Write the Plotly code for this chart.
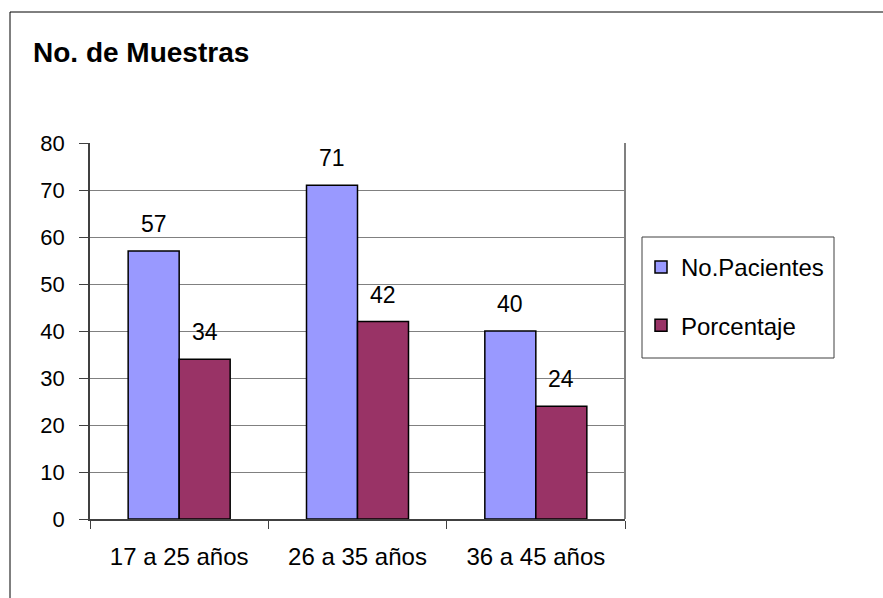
import plotly.graph_objects as go

categories = ["17 a 25 años", "26 a 35 años", "36 a 45 años"]
pacientes = [57, 71, 40]
porcentaje = [34, 42, 24]
series_names = ["No.Pacientes", "Porcentaje"]
colors = ["#9999FF", "#993366"]
y_ticks = [0, 10, 20, 30, 40, 50, 60, 70, 80]
title_text = "No. de Muestras"

FONT = "Liberation Sans, Arial, sans-serif"
W, H = 883, 598
L, R, T, B = 90, 625, 143, 519

fig = go.Figure()
for i, (name, vals) in enumerate(zip(series_names, [pacientes, porcentaje])):
    fig.add_trace(go.Bar(
        x=categories, y=vals, name=name,
        marker=dict(color=colors[i], line=dict(color="#000000", width=1.5)),
        legendgroup=name,
    ))

# data labels above bars
for i, vals in enumerate([pacientes, porcentaje]):
    shift = -25.5 if i == 0 else 25.5
    for c, v in zip(categories, vals):
        fig.add_annotation(x=c, y=v, text=str(v), showarrow=False,
                           xshift=shift, yshift=27, yanchor="middle",
                           font=dict(family=FONT, size=23, color="#000000"))

def px_x(p):
    return (p - L) / (R - L)

def px_y(p):
    return (B - p) / (B - T)

shapes = [
    # outer chart border
    dict(type="rect", xref="paper", yref="paper",
         x0=px_x(10), x1=px_x(900), y0=px_y(620), y1=px_y(12),
         line=dict(color="#000000", width=1), layer="below"),
    # right border of plot area
    dict(type="line", xref="paper", yref="paper", x0=1, x1=1, y0=0, y1=1,
         line=dict(color="#808080", width=2)),
    # legend box
    dict(type="rect", xref="paper", yref="paper",
         x0=px_x(642), x1=px_x(834), y0=px_y(358), y1=px_y(237),
         line=dict(color="#404040", width=1)),
]

fig.update_layout(
    width=W, height=H,
    margin=dict(l=L, r=W - R, t=T, b=H - B, pad=0),
    paper_bgcolor="white", plot_bgcolor="white",
    barmode="group", bargap=0.428, bargroupgap=0,
    font=dict(family=FONT, size=22, color="#000000"),
    title=dict(text="<b>" + title_text + "</b>", x=33 / W,
               xanchor="left", y=1 - 52 / H, yanchor="middle",
               font=dict(family=FONT, size=28, color="#000000")),
    showlegend=True,
    legend=dict(x=px_x(641), xanchor="left", y=px_y(245), yanchor="top",
                traceorder="grouped", tracegroupgap=24,
                bgcolor="rgba(0,0,0,0)", borderwidth=0,
                font=dict(family=FONT, size=24, color="#000000")),
    shapes=shapes,
)

fig.update_yaxes(range=[0, 80], tickvals=y_ticks, showgrid=True,
                 gridcolor="#808080", gridwidth=1,
                 showline=True, linecolor="#404040", linewidth=1.5,
                 ticks="outside", ticklen=9, tickcolor="#404040",
                 ticklabelstandoff=10, zeroline=False,
                 tickfont=dict(family=FONT, size=22, color="#000000"))
fig.update_xaxes(showgrid=False, showline=True, linecolor="#404040", linewidth=1.5,
                 ticks="outside", tickson="boundaries", ticklen=8,
                 tickcolor="#404040", ticklabelstandoff=15,
                 tickfont=dict(family=FONT, size=24, color="#000000"))

fig.write_html("out.html")
